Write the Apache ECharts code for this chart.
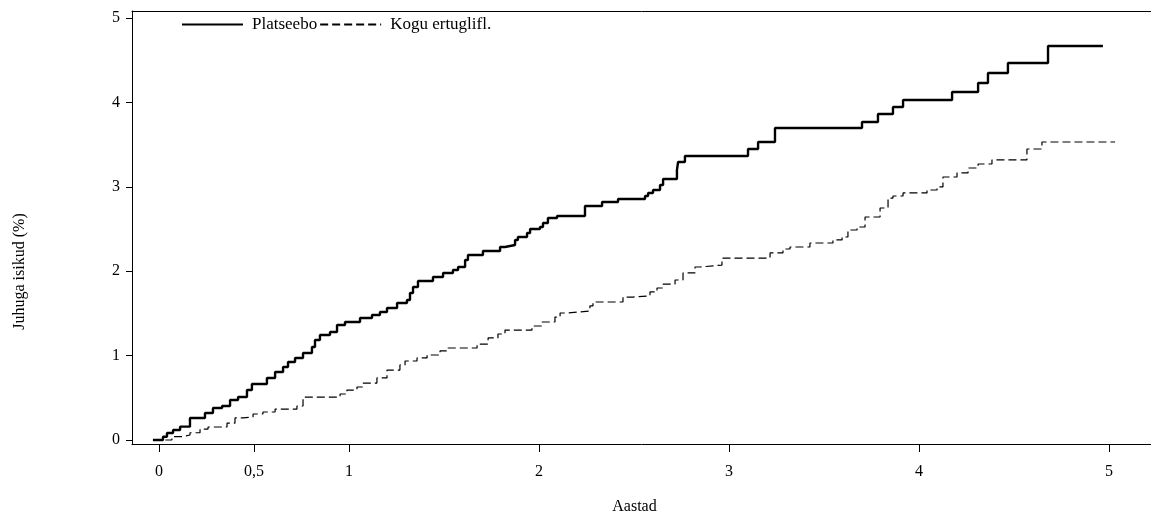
<!DOCTYPE html>
<html>
<head>
<meta charset="utf-8">
<script src="https://cdn.jsdelivr.net/npm/echarts@6/dist/echarts.min.js"></script>
<style>
html,body{margin:0;padding:0;background:#fff;}
#chart{width:1151px;height:514px;}
</style>
</head>
<body>
<div id="chart"></div>
<script>
// Step data: time (years) of each jump and cumulative value (%) after it
const placeboTime = [-0.032,0.021,0.042,0.074,0.111,0.163,0.242,0.284,0.332,0.374,0.416,0.463,0.489,0.568,0.611,0.653,0.679,0.716,0.758,0.805,0.821,0.847,0.900,0.937,0.979,1.058,1.121,1.163,1.200,1.253,1.305,1.321,1.337,1.363,1.442,1.495,1.547,1.574,1.611,1.626,1.705,1.795,1.821,1.874,1.889,1.937,1.953,2.005,2.021,2.047,2.095,2.242,2.332,2.416,2.558,2.574,2.600,2.637,2.653,2.726,2.732,2.768,3.100,3.153,3.242,3.700,3.784,3.863,3.916,4.174,4.311,4.363,4.468,4.679,4.968];
const placeboValue = [0,0.039,0.083,0.118,0.158,0.261,0.320,0.379,0.403,0.474,0.509,0.592,0.664,0.735,0.806,0.865,0.924,0.972,1.031,1.102,1.185,1.244,1.280,1.363,1.398,1.445,1.481,1.517,1.564,1.623,1.659,1.742,1.813,1.884,1.931,1.979,2.014,2.050,2.133,2.192,2.239,2.287,2.310,2.370,2.405,2.453,2.500,2.524,2.571,2.630,2.654,2.773,2.820,2.855,2.891,2.927,2.962,3.021,3.092,3.199,3.294,3.365,3.448,3.531,3.697,3.768,3.863,3.945,4.028,4.123,4.230,4.348,4.467,4.668,4.668];
const ertuTime = [-0.03,0.068,0.121,0.163,0.216,0.258,0.358,0.400,0.442,0.495,0.547,0.611,0.726,0.758,0.953,0.989,1.042,1.074,1.147,1.200,1.268,1.295,1.358,1.411,1.479,1.521,1.674,1.732,1.784,1.821,1.963,2.016,2.084,2.111,2.147,2.268,2.284,2.442,2.495,2.584,2.621,2.653,2.716,2.758,2.821,2.847,2.963,3.216,3.284,3.321,3.426,3.547,3.595,3.626,3.674,3.716,3.795,3.837,3.863,3.916,4.042,4.095,4.126,4.200,4.258,4.311,4.384,4.568,4.647,5.032];
const ertuValue = [0,0.039,0.059,0.086,0.130,0.154,0.201,0.261,0.273,0.308,0.332,0.367,0.403,0.509,0.545,0.592,0.628,0.675,0.735,0.829,0.889,0.936,0.972,1.007,1.055,1.090,1.137,1.209,1.256,1.303,1.351,1.398,1.457,1.505,1.528,1.588,1.635,1.694,1.706,1.754,1.801,1.848,1.896,1.979,2.050,2.073,2.156,2.216,2.263,2.287,2.334,2.370,2.405,2.488,2.524,2.642,2.749,2.867,2.891,2.927,2.962,2.998,3.116,3.164,3.223,3.270,3.318,3.448,3.531,3.531];

const xTicks = [0,0.5,1,2,3,4,5];
const yTicks = [0,1,2,3,4,5];
const seriesNames = ['Platseebo','Kogu ertuglifl.'];
const xTitle = 'Aastad';
const yTitle = 'Juhuga isikud (%)';

const zip = (a,b) => a.map((v,i) => [v,b[i]]);
const FONT = '"Liberation Serif", "DejaVu Serif", serif';
const X_MIN = -0.1421, X_MAX = 5.221;

const chart = echarts.init(document.getElementById('chart'), null, {renderer:'canvas'});
chart.setOption({
  animation:false,
  backgroundColor:'#fff',
  textStyle:{fontFamily:FONT,color:'#000'},
  grid:{left:132,right:0,top:11,bottom:70,show:false,containLabel:false,outerBoundsMode:'none'},
  legend:{
    left:181, top:16, padding:0, itemWidth:61, itemHeight:14, itemGap:2,
    itemStyle:{opacity:0},
    textStyle:{fontFamily:FONT,fontSize:17,color:'#000',padding:[0,0,0,4]},
    data:seriesNames
  },
  xAxis:[{
    type:'value', min:X_MIN, max:X_MAX,
    name:xTitle, nameLocation:'middle', nameGap:55,
    nameTextStyle:{fontFamily:FONT,fontSize:16,color:'#000',padding:[0,14,0,0]},
    axisLine:{show:true,onZero:false,lineStyle:{color:'#000',width:1}},
    axisTick:{show:true,length:8,lineStyle:{color:'#000'},customValues:xTicks},
    axisLabel:{fontFamily:FONT,fontSize:16,color:'#000',margin:20,customValues:xTicks,
      formatter:v=>String(v).replace('.',',')},
    splitLine:{show:false}
  },{
    type:'value', position:'top', min:X_MIN, max:X_MAX,
    axisLine:{show:true,onZero:false,lineStyle:{color:'#000',width:1}},
    axisTick:{show:false}, axisLabel:{show:false}, splitLine:{show:false}
  }],
  yAxis:{
    type:'value', min:-0.0474, max:5.083,
    name:yTitle, nameLocation:'middle', nameGap:104, nameRotate:90,
    nameTextStyle:{fontFamily:FONT,fontSize:16,color:'#000',padding:[0,88,0,0]},
    axisLine:{show:true,onZero:false,lineStyle:{color:'#000',width:1}},
    axisTick:{show:true,length:6,lineStyle:{color:'#000'},customValues:yTicks},
    axisLabel:{fontFamily:FONT,fontSize:16,color:'#000',margin:12,customValues:yTicks},
    splitLine:{show:false}
  },
  series:[
    {name:seriesNames[0],type:'line',step:'end',showSymbol:false,symbol:'none',
     data:zip(placeboTime,placeboValue),
     lineStyle:{color:'#000',width:2.4,type:'solid'},itemStyle:{color:'#000'}},
    {name:seriesNames[1],type:'line',step:'end',showSymbol:false,symbol:'none',
     data:zip(ertuTime,ertuValue),
     lineStyle:{color:'#000',width:1.2,type:[8,4]},itemStyle:{color:'#000'}}
  ]
});
</script>
</body>
</html>
